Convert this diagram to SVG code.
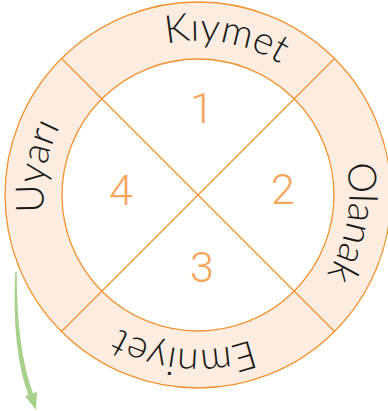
<svg xmlns="http://www.w3.org/2000/svg" width="388" height="411" viewBox="0 0 388 411">
<style>
.ring{fill:#FDEDE0;stroke:#F0922F;stroke-width:1.3}
.inner{fill:#FFFFFF;stroke:#F0922F;stroke-width:1.3}
.div{stroke:#F0922F;stroke-width:1.3;fill:none}
.num{font-family:Roboto,"Liberation Sans",sans-serif;font-weight:300;font-size:43px;fill:#F5A65C;text-anchor:middle}
.lbl{font-family:Lato,"Liberation Sans",sans-serif;font-weight:300;font-size:39px;fill:#1A1A1A;text-anchor:middle}
.arrow{fill:#A9D18E}
</style>
<defs>
<path id="arc" d="M 88.4 304.6 A 155 155 0 0 1 307.6 85.4 A 155 155 0 0 1 88.4 304.6"/>
</defs>
<g id="ring">
<circle class="ring" cx="198" cy="195" r="193"/>
<circle class="inner" cx="198" cy="195" r="136"/>
</g>
<g id="connectors">
<line class="div" x1="61.5" y1="58.5" x2="334.5" y2="331.5"/>
<line class="div" x1="334.5" y1="58.5" x2="61.5" y2="331.5"/>
</g>
<g id="q1"><text class="num" x="202" y="123">1</text></g>
<g id="q2"><text class="num" x="283" y="204">2</text></g>
<g id="q3"><text class="num" x="202" y="282">3</text></g>
<g id="q4"><text class="num" x="121" y="205">4</text></g>
<g id="label-kiymet"><text class="lbl"><textPath href="#arc" startOffset="40.28%">Kıymet</textPath></text></g>
<g id="label-olanak"><text class="lbl" dy="3"><textPath href="#arc" startOffset="65.28%">Olanak</textPath></text></g>
<g id="label-emniyet"><text class="lbl"><textPath href="#arc" startOffset="88.89%">Emniyet</textPath></text></g>
<g id="label-uyari"><text class="lbl"><textPath href="#arc" startOffset="15.28%">Uyarı</textPath></text></g>
<g id="arrow">
<path class="arrow" d="M 15.2 272 Q 11.5 350 28.6 395.8 L 33.4 394.2 Q 16.5 350 16.8 272 Z"/>
<polygon class="arrow" points="25,396 37,392 36,410"/>
</g>
</svg>
